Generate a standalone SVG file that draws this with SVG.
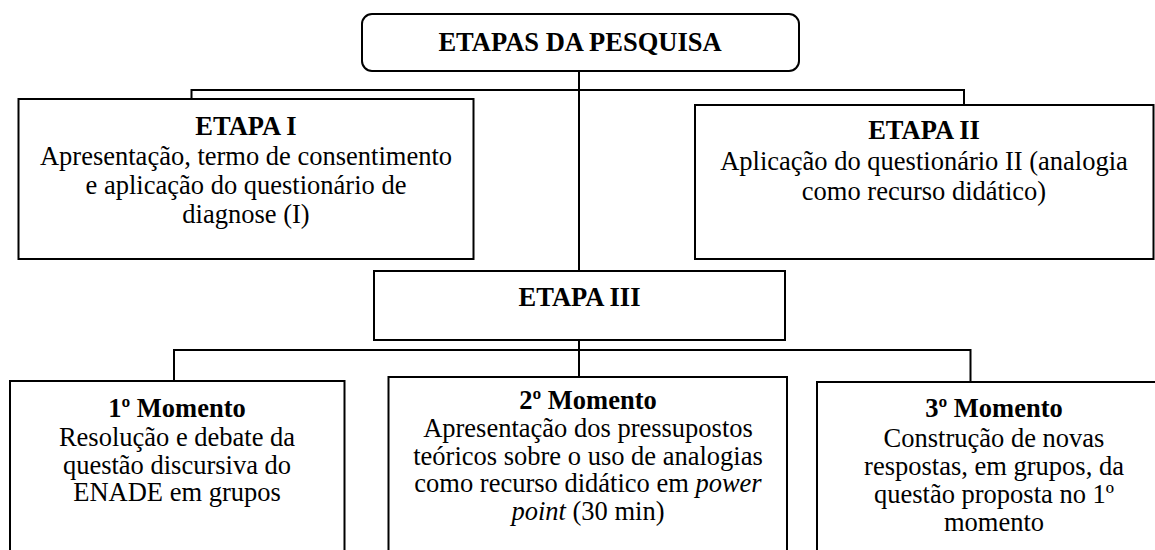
<svg xmlns="http://www.w3.org/2000/svg" width="1155" height="550" viewBox="0 0 1155 550">
  <style>
    .box { fill: #ffffff; stroke: #000000; stroke-width: 2; }
    .conn { fill: none; stroke: #000000; stroke-width: 2; }
    text { font-family: "Liberation Serif", "Times New Roman", Times, serif; font-size: 26.5px; fill: #000000; text-anchor: middle; }
    .b { font-weight: bold; }
    .i { font-style: italic; }
  </style>
  <rect width="1155" height="550" fill="#ffffff"/>
  <g id="connectors">
    <path class="conn" d="M579 71 V271"/>
    <path class="conn" d="M191.5 99 V90 H964 V105"/>
    <path class="conn" d="M579 340 V377"/>
    <path class="conn" d="M174 381 V350 H970.5 V382"/>
  </g>
  <g id="etapas-pesquisa">
    <rect class="box" x="362" y="14" width="437" height="57" rx="10" ry="10"/>
    <text class="b" x="580" y="51">ETAPAS DA PESQUISA</text>
  </g>
  <g id="etapa-1">
    <rect class="box" x="18.5" y="99" width="455" height="160"/>
    <text class="b" x="246" y="135">ETAPA I</text>
    <text x="246" y="165">Apresentação, termo de consentimento</text>
    <text x="246" y="194">e aplicação do questionário de</text>
    <text x="246" y="223">diagnose (I)</text>
  </g>
  <g id="etapa-2">
    <rect class="box" x="695" y="105" width="458.5" height="154"/>
    <text class="b" x="924" y="139">ETAPA II</text>
    <text x="924" y="170">Aplicação do questionário II (analogia</text>
    <text x="924" y="200">como recurso didático)</text>
  </g>
  <g id="etapa-3">
    <rect class="box" x="374" y="271" width="411" height="69"/>
    <text class="b" x="579.5" y="306">ETAPA III</text>
  </g>
  <g id="momento-1">
    <rect class="box" x="10" y="381" width="334.5" height="180"/>
    <text class="b" x="177" y="417">1º Momento</text>
    <text x="177" y="446">Resolução e debate da</text>
    <text x="177" y="473.5">questão discursiva do</text>
    <text x="177" y="501">ENADE em grupos</text>
  </g>
  <g id="momento-2">
    <rect class="box" x="388.5" y="377" width="398.5" height="184"/>
    <text class="b" x="588" y="409">2º Momento</text>
    <text x="588" y="437">Apresentação dos pressupostos</text>
    <text x="588" y="464.5">teóricos sobre o uso de analogias</text>
    <text x="588" y="492">como recurso didático em <tspan class="i">power</tspan></text>
    <text x="588" y="519.5"><tspan class="i">point</tspan> (30 min)</text>
  </g>
  <g id="momento-3">
    <rect class="box" x="817" y="382" width="360" height="180"/>
    <text class="b" x="994" y="417">3º Momento</text>
    <text x="994" y="447">Construção de novas</text>
    <text x="994" y="475">respostas, em grupos, da</text>
    <text x="994" y="503">questão proposta no 1º</text>
    <text x="994" y="531">momento</text>
  </g>
</svg>
